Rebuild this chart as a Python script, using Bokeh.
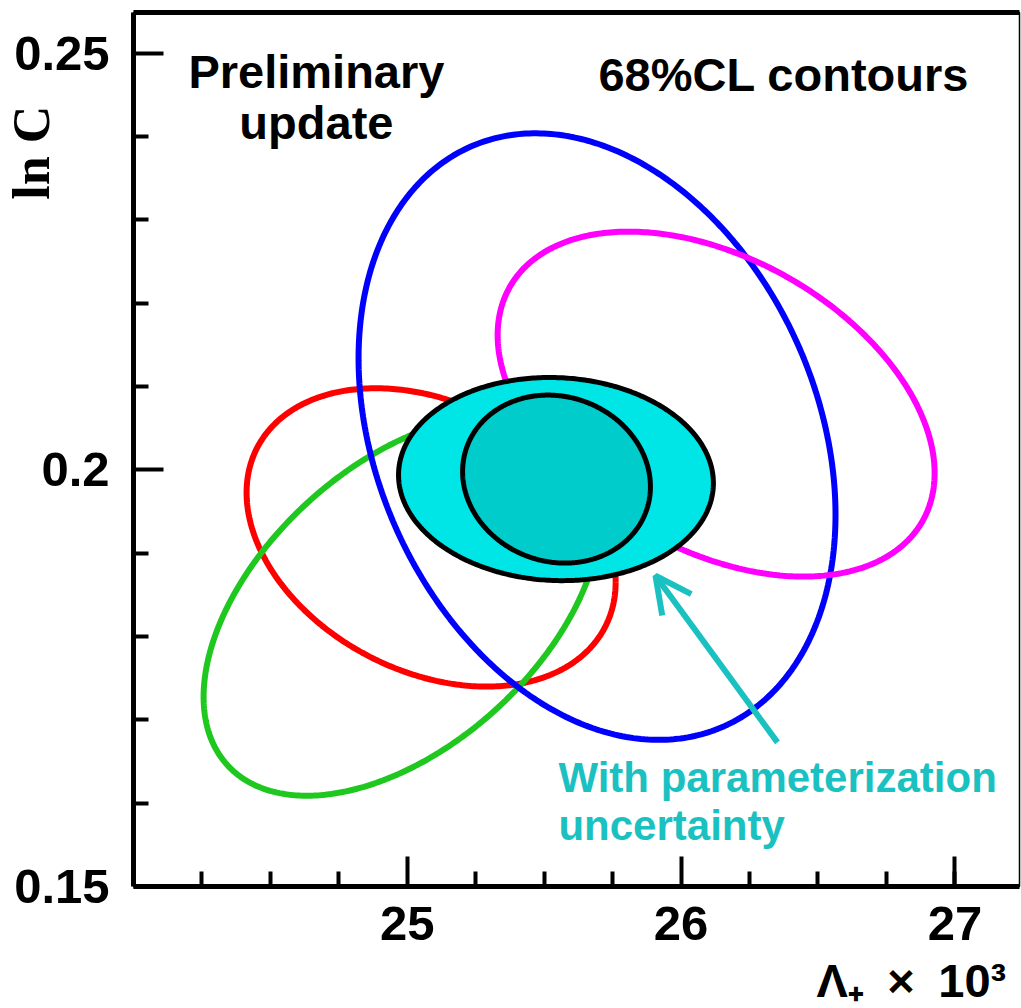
import numpy as np
from bokeh.plotting import figure
from bokeh.models import Range1d, FixedTicker, Label, Arrow, OpenHead, LinearAxis
from bokeh.embed import file_html
from bokeh.resources import INLINE

# ---- contour data (68% CL ellipses): centre, half-widths, correlation ----
contour_names = ["red", "green", "blue", "magenta"]
contour_cx = [25.087, 24.981, 25.693, 26.128]
contour_cy = [0.1919, 0.1837, 0.2040, 0.2079]
contour_rx = [0.674, 0.725, 0.871, 0.798]
contour_ry = [0.0179, 0.0228, 0.0364, 0.0207]
contour_rho = [-0.30, 0.48, -0.258, -0.40]
contour_colors = ["#ff0000", "#1ec81e", "#0000ff", "#ff00ff"]

# combined result: outer (with parameterization uncertainty), inner
combo_cx = [25.543, 25.545]
combo_cy = [0.1989, 0.1989]
combo_rx = [0.575, 0.343]
combo_ry = [0.01219, 0.01008]
combo_rho = [-0.04, -0.09]
combo_fill = ["#00e5e5", "#00cccc"]

# axis ticks
x_major = [25, 26, 27]
x_minor = [24.25, 24.5, 24.75, 25.25, 25.5, 25.75, 26.25, 26.5, 26.75, 27.0]
y_major = [0.15, 0.2, 0.25]
y_minor = [0.16, 0.17, 0.18, 0.19, 0.21, 0.22, 0.23, 0.24]
y_labels = {0.15: "0.15", 0.2: "0.2", 0.25: "0.25"}

X0, X1 = 24.0, 27.236
Y0, Y1 = 0.15, 0.2549


def ellipse(cx, cy, rx, ry, rho, n=400):
    t = np.linspace(0, 2 * np.pi, n)
    phi = np.arccos(rho)
    return cx + rx * np.cos(t), cy + ry * np.cos(t - phi)


p = figure(frame_width=886, frame_height=874,
           x_range=Range1d(X0, X1), y_range=Range1d(Y0, Y1),
           output_backend="svg", toolbar_location=None,
           min_border_left=133, min_border_right=2,
           min_border_top=12, min_border_bottom=122)
p.grid.visible = False
p.outline_line_color = "black"
p.outline_line_width = 1.5
p.background_fill_color = "white"
p.border_fill_color = "white"

xb = p.below[0]
yl = p.left[0]

for ax in (xb, yl):
    ax.axis_line_width = 5
    ax.major_tick_line_width = 4
    ax.minor_tick_line_width = 4
    ax.major_tick_in = 30
    ax.major_tick_out = 0
    ax.minor_tick_in = 15
    ax.minor_tick_out = 0
    ax.major_label_text_font = "Liberation Sans"
    ax.major_label_text_font_style = "bold"
    ax.major_label_text_font_size = "49px"
    ax.major_label_text_color = "black"
    ax.axis_label_text_color = "black"
    ax.axis_label_text_font_style = "bold"

xb.ticker = FixedTicker(ticks=x_major, minor_ticks=x_minor)
yl.ticker = FixedTicker(ticks=y_major, minor_ticks=y_minor)
yl.major_label_overrides = y_labels
xb.major_label_standoff = 20
yl.major_label_standoff = 24

# axis titles (centred on the axis; leading spaces push them to the far end)
EM, EN, QU, SX = "\u2003", "\u2002", "\u2005", "\u2006"
xb.axis_label = EM * 14 + QU + "Λ₊" + EN + "×" + EN + "10³"
xb.axis_label_text_font = "Liberation Sans"
xb.axis_label_text_font_size = "47px"
xb.axis_label_standoff = 11
yl.axis_label = EM * 11 + QU + SX + "ln C"
yl.axis_label_text_font = "Liberation Serif"
yl.axis_label_text_font_size = "52px"
yl.axis_label_standoff = -49

# thick top edge of the frame: a bare axis without ticks or labels
top_axis = LinearAxis(ticker=FixedTicker(ticks=[]), axis_line_width=5,
                      major_tick_in=0, major_tick_out=0,
                      minor_tick_in=0, minor_tick_out=0,
                      major_label_standoff=0)
p.add_layout(top_axis, "above")

# coloured contours
for i in range(len(contour_names)):
    xs, ys = ellipse(contour_cx[i], contour_cy[i], contour_rx[i], contour_ry[i], contour_rho[i])
    p.line(xs, ys, line_color=contour_colors[i], line_width=6)

# combined result on top
for i in range(len(combo_cx)):
    xs, ys = ellipse(combo_cx[i], combo_cy[i], combo_rx[i], combo_ry[i], combo_rho[i])
    p.patch(xs, ys, fill_color=combo_fill[i], line_color="black", line_width=5)

# annotation arrow
teal = "#1bc1c1"
p.add_layout(Arrow(end=OpenHead(size=36, line_color=teal, line_width=6),
                   x_start=26.352, y_start=0.1673, x_end=25.9065, y_end=0.1873,
                   line_color=teal, line_width=6))


def lab(x, y, text, size, color="black", align="left"):
    p.add_layout(Label(x=x, y=y, text=text, text_font="Liberation Sans",
                       text_font_style="bold", text_font_size=size,
                       text_color=color, text_align=align,
                       text_baseline="alphabetic"))


lab(24.668, 0.24784, "Preliminary", "47px", align="center")
lab(24.668, 0.24172, "update", "47px", align="center")
lab(25.698, 0.24748, "68%CL contours", "47px")
lab(25.552, 0.16308, "With parameterization", "42px", color=teal)
lab(25.552, 0.15735, "uncertainty", "42px", color=teal)

open("out.html", "w").write(file_html(p, INLINE))
